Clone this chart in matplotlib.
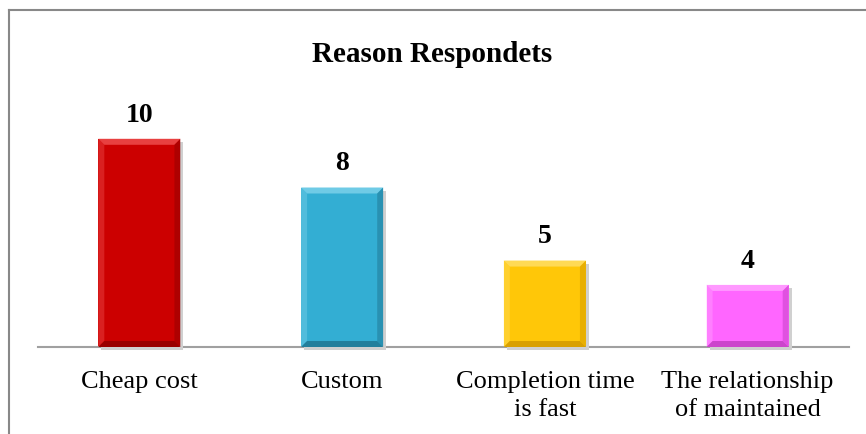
import matplotlib.pyplot as plt
from matplotlib.patches import Polygon
from matplotlib.lines import Line2D

categories = ['Cheap cost', 'Custom', 'Completion time\nis fast', 'The relationship\nof maintained']
values = [10, 8, 5, 4]
colors = ['#CC0000', '#33AED3', '#FFC708', '#FF66FF']
light = ['#E84040', '#6FCBE6', '#FFDA55', '#FF99FF']
dark = ['#9A0000', '#237F9C', '#D9A000', '#CC44CC']

plt.rcParams['font.family'] = ['Liberation Serif', 'DejaVu Serif']

fig = plt.figure(figsize=(8.66, 4.34), dpi=100)
ax = fig.add_axes([38 / 866, 87 / 434, 811 / 866, 247 / 434])

x = list(range(len(values)))
bars = ax.bar(x, values, width=0.405, color=colors, zorder=2)
ax.set_xlim(-0.5, len(values) - 0.5)
ax.set_ylim(1.45, 1.45 + 247 / 24.35)

for s in ['top', 'left', 'right']:
    ax.spines[s].set_visible(False)
ax.spines['bottom'].set_color('#A0A0A0')
ax.spines['bottom'].set_linewidth(1.5)
ax.set_yticks([])
ax.set_xticks(x)
ax.set_xticklabels(categories, fontsize=19, linespacing=1.35)
ax.tick_params(axis='x', length=0, pad=17)

# bevel edges drawn in display coords around each bar
fig.canvas.draw()
b = 6
for bar, lc, dc in zip(bars, light, dark):
    (x0, y0), (x1, y1) = ax.transData.transform([(bar.get_x(), ax.get_ylim()[0]),
                                                  (bar.get_x() + bar.get_width(), bar.get_height())])
    sh = Polygon([(x0 + 3, y0 - 3), (x1 + 3, y0 - 3), (x1 + 3, y1 - 3), (x1, y1 - 3), (x1, y0), (x0 + 3, y0)],
                 closed=True, transform=None, facecolor='#D0D0D0', edgecolor='none', zorder=1)
    fig.add_artist(sh)
    top = Polygon([(x0, y1), (x1, y1), (x1 - b, y1 - b), (x0 + b, y1 - b)], closed=True,
                  transform=None, facecolor=lc, edgecolor='none', zorder=3)
    left = Polygon([(x0, y1), (x0 + b, y1 - b), (x0 + b, y0 + b), (x0, y0)], closed=True,
                   transform=None, facecolor=lc, edgecolor='none', alpha=0.5, zorder=3)
    right = Polygon([(x1, y1), (x1 - b, y1 - b), (x1 - b, y0 + b), (x1, y0)], closed=True,
                    transform=None, facecolor=dc, edgecolor='none', alpha=0.6, zorder=3)
    bottom = Polygon([(x0, y0), (x0 + b, y0 + b), (x1 - b, y0 + b), (x1, y0)], closed=True,
                     transform=None, facecolor=dc, edgecolor='none', zorder=3)
    for p in (top, left, right, bottom):
        fig.add_artist(p)
    ax.annotate(str(int(bar.get_height())), (bar.get_x() + bar.get_width() / 2, bar.get_height()),
                xytext=(0, 8), textcoords='offset points', ha='center', va='bottom',
                fontsize=20, fontweight='bold')

fig.text(432 / 866, 1 - 55 / 434, 'Reason Respondets', ha='center', va='center',
         fontsize=21, fontweight='bold')

# outer chart border (only top and left visible in crop)
fig.add_artist(Line2D([8.5 / 866, 1], [1 - 9.5 / 434, 1 - 9.5 / 434], color='#888888', lw=1.5))
fig.add_artist(Line2D([8.5 / 866, 8.5 / 866], [0, 1 - 9.5 / 434], color='#888888', lw=1.5))

fig.savefig('out.png', dpi=100, facecolor='white')
